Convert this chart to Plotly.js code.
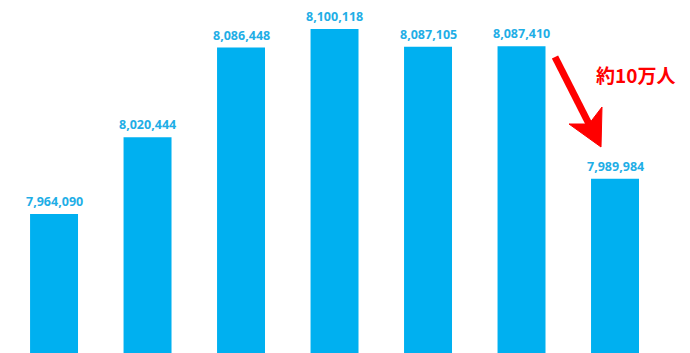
<!DOCTYPE html>
<html>
<head>
<meta charset="utf-8">
<script src="https://cdn.plot.ly/plotly-3.0.1.min.js"></script>
<style>html,body{margin:0;padding:0;background:#fff;}#chart{width:690px;height:353px;}</style>
</head>
<body>
<div id="chart"></div>
<script>
const categories = ['c1', 'c2', 'c3', 'c4', 'c5', 'c6', 'c7'];
const values = [7964090, 8020444, 8086448, 8100118, 8087105, 8087410, 7989984];
const labels = values.map(v => v.toLocaleString('en-US'));
const noteText = '約10万人';

const W = 690, H = 353;
const px = x => x / W;
const py = y => 1 - y / H;

const trace = {
  type: 'bar',
  x: categories,
  y: values,
  marker: {color: '#00B0F0'},
  hoverinfo: 'none'
};

const valueLabels = categories.map((c, i) => ({
  x: i, y: values[i], xref: 'x', yref: 'y', text: '<b>' + labels[i] + '</b>', showarrow: false,
  xanchor: 'center', yanchor: 'bottom', yshift: 2,
  font: {family: 'Noto Sans', size: 12.5, color: '#1FAEE6'}
}));

const tip = [601, 147], lw = [569, 124], rw = [602, 107], notch = [589, 124], start = [555, 57];

const layout = {
  width: W, height: H,
  margin: {l: 0, r: 0, t: 0, b: 0},
  paper_bgcolor: '#fff', plot_bgcolor: '#fff',
  bargap: 0.487,
  showlegend: false,
  xaxis: {type: 'category', range: [-0.578, 6.802], visible: false, fixedrange: true},
  yaxis: {range: [7861884, 8121442], visible: false, fixedrange: true},
  shapes: [
    {type: 'line', xref: 'paper', yref: 'paper', x0: px(start[0]), y0: py(start[1]), x1: px(notch[0]), y1: py(notch[1]),
     line: {color: '#FF0000', width: 7}},
    {type: 'path', xref: 'paper', yref: 'paper',
     path: `M ${px(tip[0])} ${py(tip[1])} L ${px(lw[0])} ${py(lw[1])} L ${px(notch[0])} ${py(notch[1])} L ${px(rw[0])} ${py(rw[1])} Z`,
     fillcolor: '#FF0000', line: {color: '#FF0000', width: 1}}
  ],
  annotations: valueLabels.concat([
    {xref: 'paper', yref: 'paper', x: px(635), y: py(75), text: '<b>' + noteText + '</b>', showarrow: false,
     xanchor: 'center', yanchor: 'middle',
     font: {family: 'Noto Sans CJK JP', size: 19, color: '#FF0000'}}
  ])
};

Plotly.newPlot('chart', [trace], layout, {displayModeBar: false, staticPlot: true});
</script>
</body>
</html>
